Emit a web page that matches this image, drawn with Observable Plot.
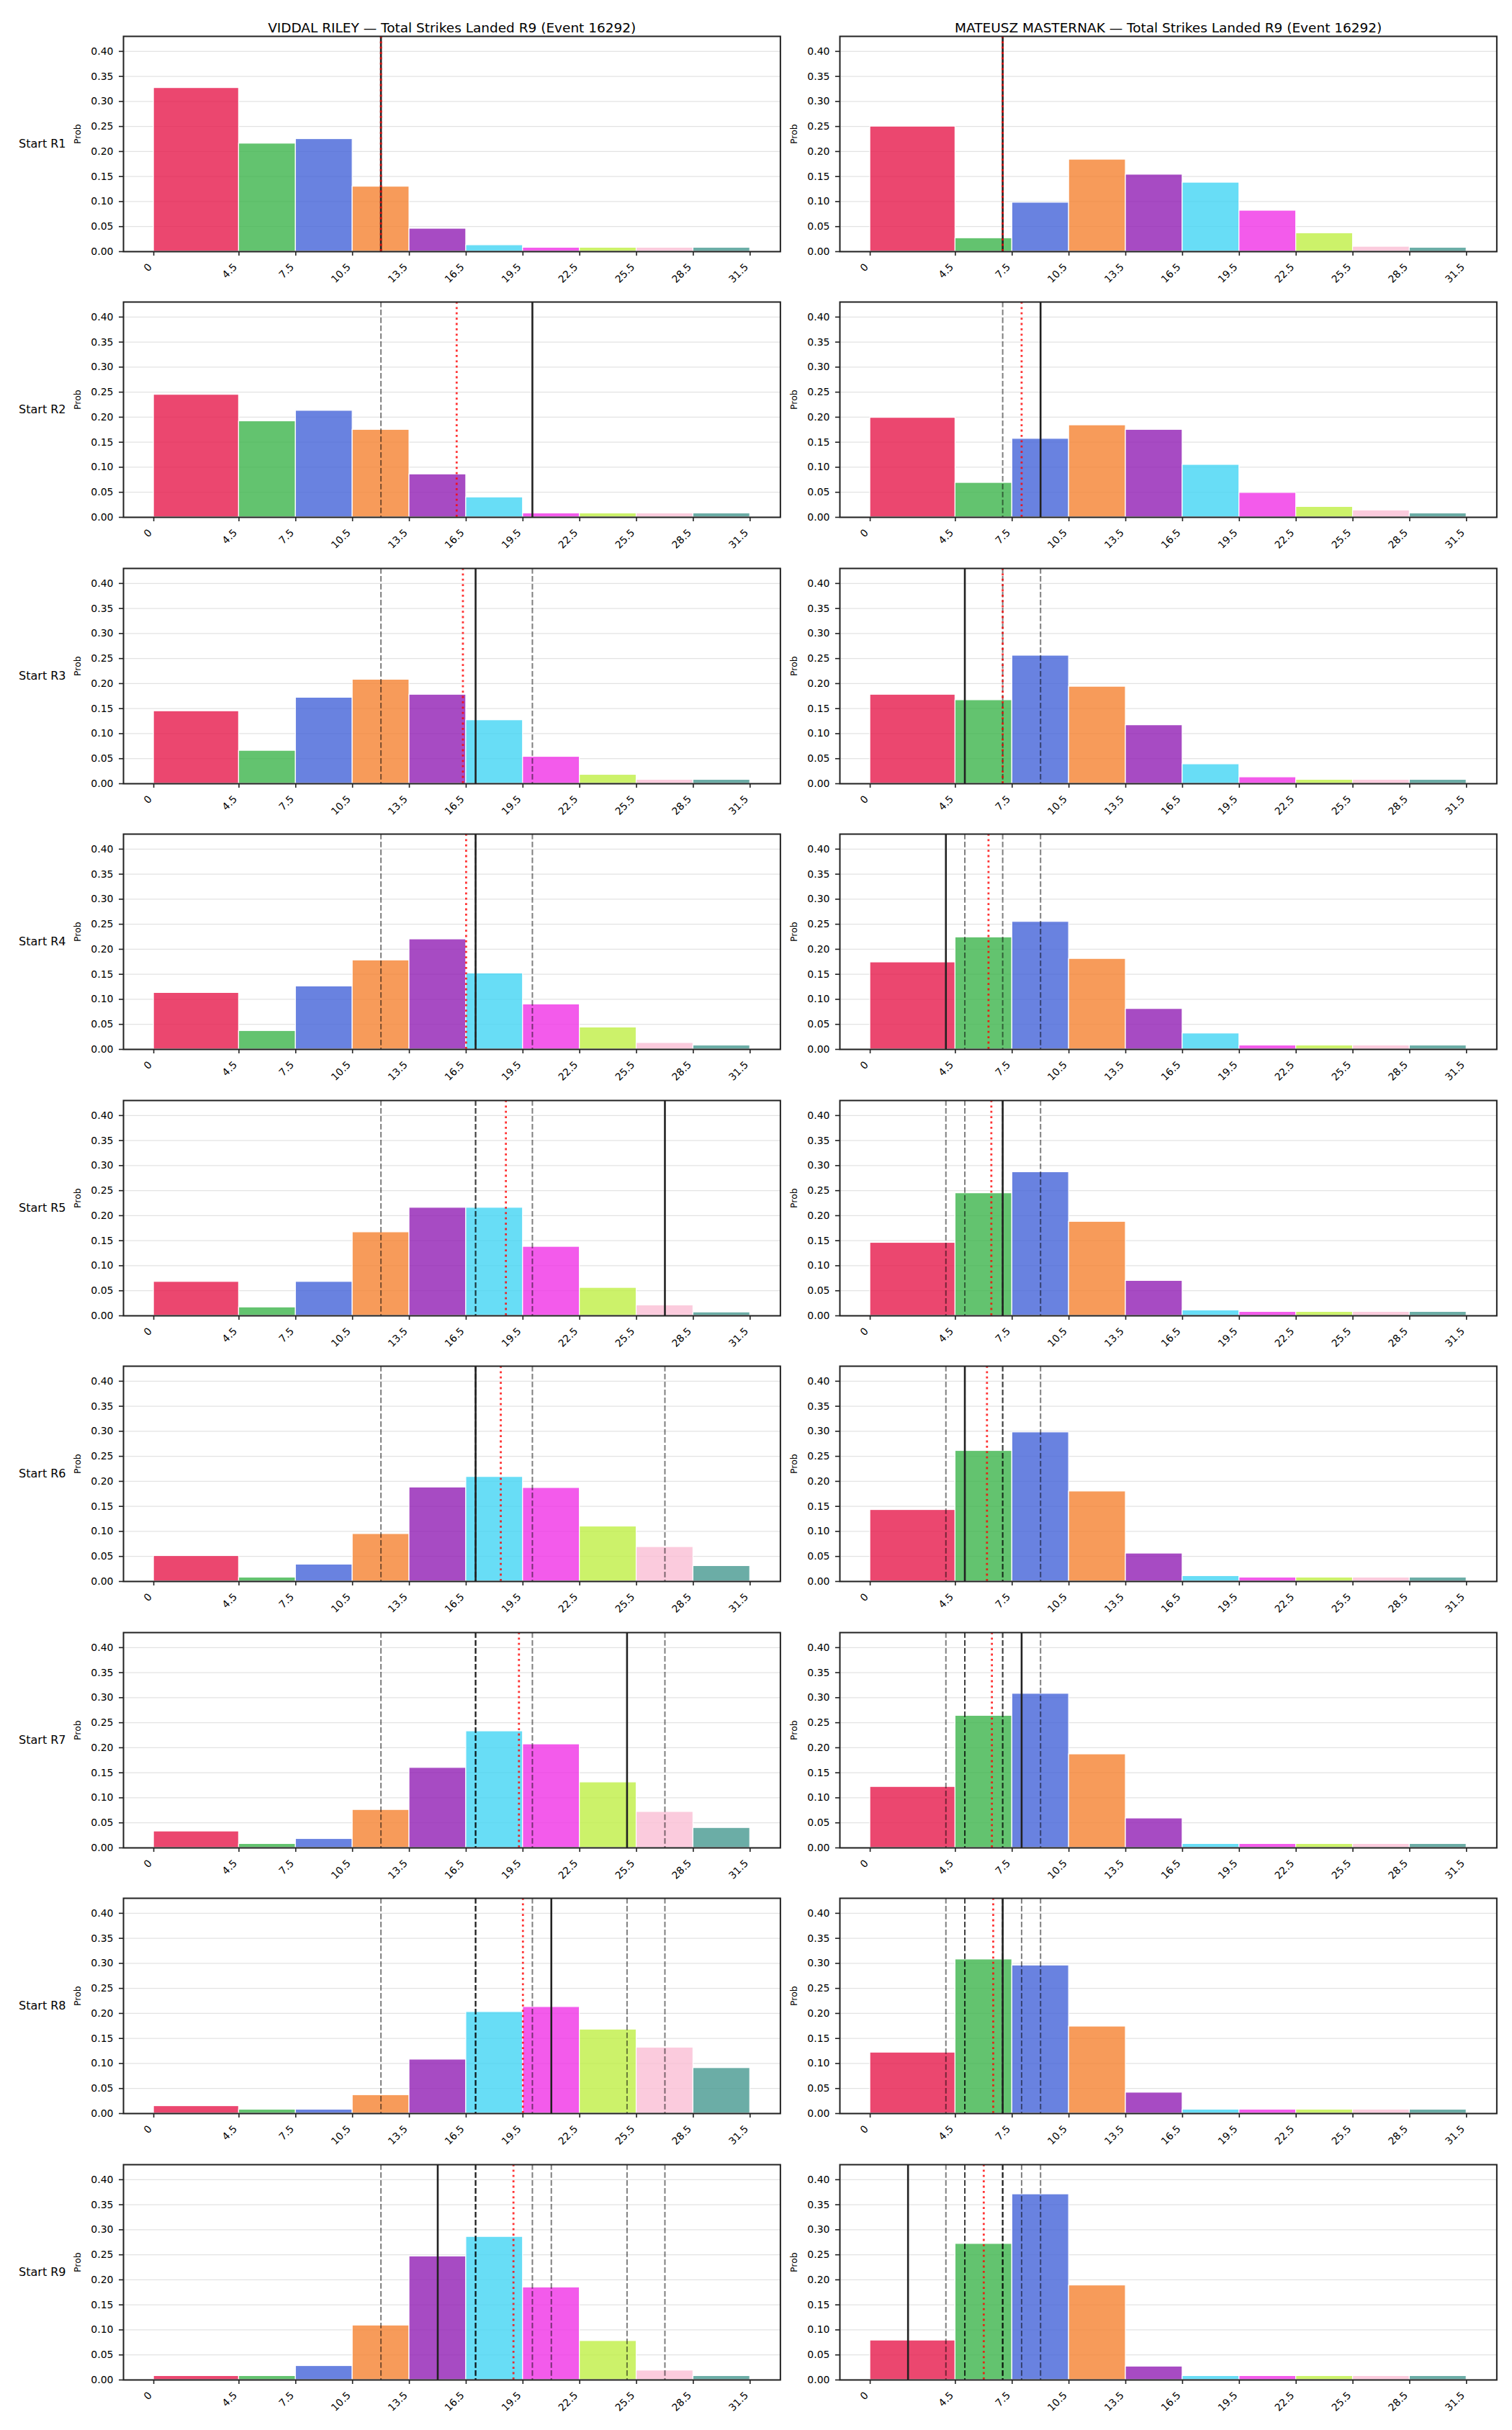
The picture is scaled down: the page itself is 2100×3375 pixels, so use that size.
<!DOCTYPE html>
<html>
<head>
<meta charset="utf-8">
<script src="https://cdn.jsdelivr.net/npm/d3@7"></script>
<script src="https://cdn.jsdelivr.net/npm/@observablehq/plot@0.6"></script>
<style>
  html, body { margin: 0; padding: 0; background: #fff; overflow: hidden; }
  #fig { position: relative; width: 2100px; height: 3375px; background: #fff; overflow: hidden; font-family: "DejaVu Sans", sans-serif; }
  #fig svg { position: absolute; overflow: visible; }
</style>
</head>
<body>
<div id="fig"></div>
<script>
// ---------------- data ----------------
const players = ["VIDDAL RILEY", "MATEUSZ MASTERNAK"];
const titleSuffix = " — Total Strikes Landed R9 (Event 16292)";
const roundLabels = ["Start R1", "Start R2", "Start R3", "Start R4", "Start R5", "Start R6", "Start R7", "Start R8", "Start R9"];
const binEdges = [0, 4.5, 7.5, 10.5, 13.5, 16.5, 19.5, 22.5, 25.5, 28.5, 31.5];
const xTickValues = [0, 4.5, 7.5, 10.5, 13.5, 16.5, 19.5, 22.5, 25.5, 28.5, 31.5];
const xTickLabels = ["0", "4.5", "7.5", "10.5", "13.5", "16.5", "19.5", "22.5", "25.5", "28.5", "31.5"];
const yTickValues = [0, 0.05, 0.10, 0.15, 0.20, 0.25, 0.30, 0.35, 0.40];
const yTickLabels = ["0.00", "0.05", "0.10", "0.15", "0.20", "0.25", "0.30", "0.35", "0.40"];
const binColors = ["#e6194b", "#3cb44b", "#4363d8", "#f58231", "#911eb4", "#42d4f4", "#f032e6", "#bfef45", "#fabed4", "#469990"];

// probabilities per bin, one row per "Start Rk"
const rileyProbs = [
  [0.327, 0.216, 0.225, 0.130, 0.046, 0.013, 0.008, 0.008, 0.008, 0.008],
  [0.245, 0.192, 0.213, 0.175, 0.086, 0.040, 0.008, 0.008, 0.008, 0.008],
  [0.145, 0.066, 0.172, 0.208, 0.178, 0.127, 0.054, 0.018, 0.008, 0.008],
  [0.113, 0.037, 0.126, 0.178, 0.220, 0.152, 0.090, 0.044, 0.013, 0.008],
  [0.068, 0.017, 0.068, 0.167, 0.216, 0.216, 0.138, 0.056, 0.021, 0.007],
  [0.051, 0.008, 0.034, 0.095, 0.188, 0.209, 0.187, 0.110, 0.069, 0.031],
  [0.033, 0.008, 0.018, 0.076, 0.160, 0.233, 0.207, 0.131, 0.072, 0.040],
  [0.015, 0.008, 0.008, 0.037, 0.108, 0.203, 0.213, 0.168, 0.132, 0.091],
  [0.008, 0.008, 0.028, 0.109, 0.247, 0.286, 0.185, 0.078, 0.019, 0.008]
];
const masternakProbs = [
  [0.250, 0.027, 0.098, 0.184, 0.154, 0.138, 0.082, 0.037, 0.010, 0.008],
  [0.199, 0.069, 0.157, 0.184, 0.175, 0.105, 0.049, 0.021, 0.014, 0.008],
  [0.178, 0.167, 0.256, 0.194, 0.117, 0.039, 0.013, 0.008, 0.008, 0.008],
  [0.174, 0.224, 0.255, 0.181, 0.081, 0.032, 0.008, 0.008, 0.008, 0.008],
  [0.146, 0.245, 0.287, 0.188, 0.070, 0.011, 0.008, 0.008, 0.008, 0.008],
  [0.143, 0.261, 0.298, 0.180, 0.056, 0.011, 0.008, 0.008, 0.008, 0.008],
  [0.122, 0.264, 0.308, 0.187, 0.059, 0.008, 0.008, 0.008, 0.008, 0.008],
  [0.122, 0.308, 0.296, 0.174, 0.042, 0.008, 0.008, 0.008, 0.008, 0.008],
  [0.079, 0.272, 0.371, 0.189, 0.027, 0.008, 0.008, 0.008, 0.008, 0.008]
];
// solid black line (value for that round)
const rileyActual = [12, 20, 17, 17, 27, 17, 25, 21, 15];
const masternakActual = [7, 9, 5, 4, 7, 5, 8, 7, 2];
// red dotted line
const rileyMean = [12, 16, 16.33, 16.5, 18.6, 18.33, 19.29, 19.5, 19];
const masternakMean = [7, 8, 7, 6.25, 6.4, 6.17, 6.43, 6.5, 6];

// ---------------- layout ----------------
const frameLefts = [170.7, 1165.6];
const frameW = 912.4;
const frameH = 299;
const frameTop0 = 49.7;
const rowPitch = 369.5;
const mL = 170, mR = 10, mT = 45, mB = 60;

const fig = document.getElementById("fig");
const probsByPlayer = [rileyProbs, masternakProbs];
const actualByPlayer = [rileyActual, masternakActual];
const meanByPlayer = [rileyMean, masternakMean];

for (let col = 0; col < 2; col++) {
  for (let r = 0; r < 9; r++) {
    const probs = probsByPlayer[col][r];
    const bars = probs.map((p, i) => ({x1: binEdges[i], x2: binEdges[i + 1], p, c: binColors[i]}));
    const history = actualByPlayer[col].slice(0, r);
    const actual = actualByPlayer[col][r];
    const mean = meanByPlayer[col][r];

    const marks = [
      Plot.ruleY(yTickValues, {stroke: "#e3e3e3", strokeWidth: 1.3}),
      Plot.rect(bars, {x1: "x1", x2: "x2", y1: 0, y2: "p", fill: "c", fillOpacity: 0.8, stroke: "white", strokeWidth: 1.2}),
      Plot.ruleX(history, {stroke: "black", strokeOpacity: 0.5, strokeWidth: 2, strokeDasharray: "7.7,3.3"}),
      Plot.ruleX([actual], {stroke: "#222", strokeWidth: 2.6}),
      Plot.ruleX([mean], {stroke: "red", strokeOpacity: 0.8, strokeWidth: 2.8, strokeDasharray: "2.8,4.6"}),
      Plot.frame({stroke: "#222", strokeWidth: 2}),
      Plot.axisY({ticks: yTickValues, tickFormat: d => yTickLabels[yTickValues.indexOf(d)], tickSize: 6, tickPadding: 8,
                  stroke: "#222", strokeWidth: 1.6, label: null, fontSize: 14}),
      Plot.axisX({ticks: xTickValues, tickSize: 6, fill: "none", stroke: "#222", strokeWidth: 1.6, label: null}),
      Plot.text(xTickValues, {x: d => d, text: d => xTickLabels[xTickValues.indexOf(d)], frameAnchor: "bottom",
                  dy: 19, dx: -5, rotate: -45, textAnchor: "end", lineAnchor: "middle", fontSize: 14}),
      Plot.text(["Prob"], {text: d => d, frameAnchor: "left", dx: -64, rotate: -90, fontSize: 12.5})
    ];
    if (col === 0) {
      marks.push(Plot.text([roundLabels[r]], {text: d => d, frameAnchor: "left", dx: -80, textAnchor: "end", fontSize: 16}));
    }
    if (r === 0) {
      marks.push(Plot.text([players[col] + titleSuffix], {text: d => d, frameAnchor: "top", dy: -19, fontSize: 18.5}));
    }

    const svg = Plot.plot({
      width: mL + frameW + mR,
      height: mT + frameH + mB,
      marginLeft: mL, marginRight: mR, marginTop: mT, marginBottom: mB,
      style: {fontFamily: "DejaVu Sans", fontSize: "14px", background: "transparent", color: "black", overflow: "visible"},
      x: {domain: [-1.6, 33.1]},
      y: {domain: [0, 0.43]},
      color: {type: "identity"},
      marks
    });
    const top = frameTop0 + r * rowPitch - mT;
    const left = frameLefts[col] - mL;
    svg.style.left = left + "px";
    svg.style.top = top + "px";
    svg.style.maxWidth = "none";
    fig.appendChild(svg);
  }
}
</script>
</body>
</html>
